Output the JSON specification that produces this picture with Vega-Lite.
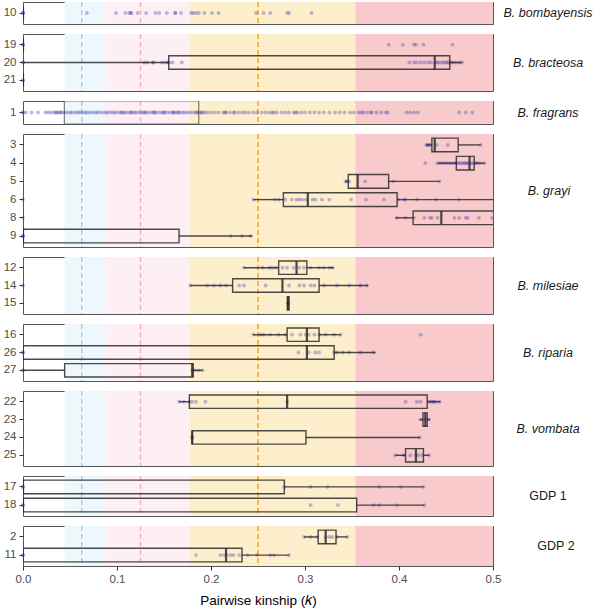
{
"$schema": "https://vega.github.io/schema/vega-lite/v6.json",
"padding": {"left": 2, "top": 0, "right": 0, "bottom": 0},
"spacing": 6,
"resolve": {"scale": {"x": "independent", "y": "independent"}},
"config": {
 "font": "Liberation Sans",
 "view": {"stroke": "#555555", "strokeWidth": 1},
 "axisY": {"labelFontSize": 11.5, "labelColor": "#4d4d4d", "tickColor": "#333333", "tickSize": 4, "labelPadding": 3, "domain": false, "grid": false},
 "axisX": {"grid": false, "domain": false, "labelFlush": false, "labelFontSize": 11.5, "labelColor": "#4d4d4d", "tickColor": "#333333", "tickSize": 4, "labelPadding": 3, "titleFontSize": 13.5, "titleFontWeight": "normal", "titleColor": "#000000", "titlePadding": 9}
},
"datasets": {
 "bands": [
  {"lo": 0.0442, "hi": 0.0884, "cat": "3rd"},
  {"lo": 0.0884, "hi": 0.1768, "cat": "2nd"},
  {"lo": 0.1768, "hi": 0.3536, "cat": "1st"},
  {"lo": 0.3536, "hi": 0.5, "cat": "dup"}
 ],
 "refs": [
  {"k": 0.0625, "cat": "3rd"},
  {"k": 0.125, "cat": "2nd"},
  {"k": 0.25, "cat": "1st"}
 ],
 "boxes": [
  {"species": "B. bombayensis", "pop": "10", "lower": 0, "q1": 0, "median": 0, "q3": 0, "upper": 0},
  {"species": "B. bracteosa", "pop": "19", "lower": 0, "q1": 0, "median": 0, "q3": 0, "upper": 0},
  {"species": "B. bracteosa", "pop": "20", "lower": 0, "q1": 0.155, "median": 0.438, "q3": 0.454, "upper": 0.467},
  {"species": "B. bracteosa", "pop": "21", "lower": 0, "q1": 0, "median": 0, "q3": 0, "upper": 0},
  {"species": "B. fragrans", "pop": "1", "lower": 0, "q1": 0.044, "median": 0.044, "q3": 0.187, "upper": 0.39},
  {"species": "B. grayi", "pop": "3", "lower": 0.429, "q1": 0.435, "median": 0.438, "q3": 0.463, "upper": 0.487},
  {"species": "B. grayi", "pop": "4", "lower": 0.441, "q1": 0.461, "median": 0.475, "q3": 0.48, "upper": 0.491},
  {"species": "B. grayi", "pop": "5", "lower": 0.343, "q1": 0.346, "median": 0.356, "q3": 0.389, "upper": 0.443},
  {"species": "B. grayi", "pop": "6", "lower": 0.245, "q1": 0.277, "median": 0.303, "q3": 0.398, "upper": 0.53},
  {"species": "B. grayi", "pop": "8", "lower": 0.396, "q1": 0.415, "median": 0.445, "q3": 0.52, "upper": 0.55},
  {"species": "B. grayi", "pop": "9", "lower": 0, "q1": 0, "median": 0, "q3": 0.166, "upper": 0.244},
  {"species": "B. milesiae", "pop": "12", "lower": 0.235, "q1": 0.272, "median": 0.291, "q3": 0.302, "upper": 0.331},
  {"species": "B. milesiae", "pop": "14", "lower": 0.178, "q1": 0.223, "median": 0.276, "q3": 0.315, "upper": 0.367},
  {"species": "B. milesiae", "pop": "15", "lower": 0.281, "q1": 0.2812, "median": 0.282, "q3": 0.283, "upper": 0.283},
  {"species": "B. riparia", "pop": "16", "lower": 0.245, "q1": 0.281, "median": 0.302, "q3": 0.315, "upper": 0.338},
  {"species": "B. riparia", "pop": "26", "lower": 0, "q1": 0, "median": 0.302, "q3": 0.331, "upper": 0.375},
  {"species": "B. riparia", "pop": "27", "lower": 0, "q1": 0.0443, "median": 0.18, "q3": 0.181, "upper": 0.191},
  {"species": "B. vombata", "pop": "22", "lower": 0.166, "q1": 0.177, "median": 0.281, "q3": 0.43, "upper": 0.444},
  {"species": "B. vombata", "pop": "23", "lower": 0.422, "q1": 0.4255, "median": 0.428, "q3": 0.43, "upper": 0.433},
  {"species": "B. vombata", "pop": "24", "lower": 0.18, "q1": 0.18, "median": 0.18, "q3": 0.301, "upper": 0.422},
  {"species": "B. vombata", "pop": "25", "lower": 0.396, "q1": 0.407, "median": 0.418, "q3": 0.426, "upper": 0.432},
  {"species": "GDP 1", "pop": "17", "lower": 0, "q1": 0, "median": 0, "q3": 0.278, "upper": 0.426},
  {"species": "GDP 1", "pop": "18", "lower": 0, "q1": 0, "median": 0, "q3": 0.355, "upper": 0.427},
  {"species": "GDP 2", "pop": "2", "lower": 0.299, "q1": 0.314, "median": 0.322, "q3": 0.333, "upper": 0.345},
  {"species": "GDP 2", "pop": "11", "lower": 0, "q1": 0, "median": 0.216, "q3": 0.233, "upper": 0.283}
 ],
 "points": [
  {"species":"B. bombayensis","pop":"10","k":0},{"species":"B. bombayensis","pop":"10","k":0},{"species":"B. bombayensis","pop":"10","k":0},
  {"species":"B. bombayensis","pop":"10","k":0.068},{"species":"B. bombayensis","pop":"10","k":0.099},{"species":"B. bombayensis","pop":"10","k":0.109},
  {"species":"B. bombayensis","pop":"10","k":0.113},{"species":"B. bombayensis","pop":"10","k":0.115},{"species":"B. bombayensis","pop":"10","k":0.115},
  {"species":"B. bombayensis","pop":"10","k":0.122},{"species":"B. bombayensis","pop":"10","k":0.131},{"species":"B. bombayensis","pop":"10","k":0.141},
  {"species":"B. bombayensis","pop":"10","k":0.145},{"species":"B. bombayensis","pop":"10","k":0.153},{"species":"B. bombayensis","pop":"10","k":0.162},
  {"species":"B. bombayensis","pop":"10","k":0.162},{"species":"B. bombayensis","pop":"10","k":0.168},{"species":"B. bombayensis","pop":"10","k":0.179},
  {"species":"B. bombayensis","pop":"10","k":0.181},{"species":"B. bombayensis","pop":"10","k":0.184},{"species":"B. bombayensis","pop":"10","k":0.187},
  {"species":"B. bombayensis","pop":"10","k":0.193},{"species":"B. bombayensis","pop":"10","k":0.201},{"species":"B. bombayensis","pop":"10","k":0.208},
  {"species":"B. bombayensis","pop":"10","k":0.248},{"species":"B. bombayensis","pop":"10","k":0.256},{"species":"B. bombayensis","pop":"10","k":0.263},
  {"species":"B. bombayensis","pop":"10","k":0.281},{"species":"B. bombayensis","pop":"10","k":0.283},{"species":"B. bombayensis","pop":"10","k":0.307},
  {"species":"B. bracteosa","pop":"19","k":0},{"species":"B. bracteosa","pop":"19","k":0},{"species":"B. bracteosa","pop":"19","k":0.389},
  {"species":"B. bracteosa","pop":"19","k":0.404},{"species":"B. bracteosa","pop":"19","k":0.416},{"species":"B. bracteosa","pop":"19","k":0.418},
  {"species":"B. bracteosa","pop":"19","k":0.426},{"species":"B. bracteosa","pop":"19","k":0.457},
  {"species":"B. bracteosa","pop":"20","k":0},{"species":"B. bracteosa","pop":"20","k":0},{"species":"B. bracteosa","pop":"20","k":0.129},
  {"species":"B. bracteosa","pop":"20","k":0.132},{"species":"B. bracteosa","pop":"20","k":0.138},{"species":"B. bracteosa","pop":"20","k":0.139},
  {"species":"B. bracteosa","pop":"20","k":0.148},{"species":"B. bracteosa","pop":"20","k":0.152},{"species":"B. bracteosa","pop":"20","k":0.155},
  {"species":"B. bracteosa","pop":"20","k":0.155},{"species":"B. bracteosa","pop":"20","k":0.159},{"species":"B. bracteosa","pop":"20","k":0.169},
  {"species":"B. bracteosa","pop":"20","k":0.411},{"species":"B. bracteosa","pop":"20","k":0.416},{"species":"B. bracteosa","pop":"20","k":0.419},
  {"species":"B. bracteosa","pop":"20","k":0.423},{"species":"B. bracteosa","pop":"20","k":0.427},{"species":"B. bracteosa","pop":"20","k":0.431},
  {"species":"B. bracteosa","pop":"20","k":0.434},{"species":"B. bracteosa","pop":"20","k":0.439},{"species":"B. bracteosa","pop":"20","k":0.441},
  {"species":"B. bracteosa","pop":"20","k":0.443},{"species":"B. bracteosa","pop":"20","k":0.446},{"species":"B. bracteosa","pop":"20","k":0.448},
  {"species":"B. bracteosa","pop":"20","k":0.45},{"species":"B. bracteosa","pop":"20","k":0.452},{"species":"B. bracteosa","pop":"20","k":0.453},
  {"species":"B. bracteosa","pop":"20","k":0.455},{"species":"B. bracteosa","pop":"20","k":0.457},{"species":"B. bracteosa","pop":"20","k":0.46},
  {"species":"B. bracteosa","pop":"20","k":0.464},{"species":"B. bracteosa","pop":"20","k":0.467},
  {"species":"B. bracteosa","pop":"21","k":0},{"species":"B. bracteosa","pop":"21","k":0},
  {"species":"B. fragrans","pop":"1","k":0},{"species":"B. fragrans","pop":"1","k":0},{"species":"B. fragrans","pop":"1","k":0.003},{"species":"B. fragrans","pop":"1","k":0.009},
  {"species":"B. fragrans","pop":"1","k":0.016},{"species":"B. fragrans","pop":"1","k":0.024},{"species":"B. fragrans","pop":"1","k":0.027},{"species":"B. fragrans","pop":"1","k":0.03},
  {"species":"B. fragrans","pop":"1","k":0.033},{"species":"B. fragrans","pop":"1","k":0.035},{"species":"B. fragrans","pop":"1","k":0.036},{"species":"B. fragrans","pop":"1","k":0.038},
  {"species":"B. fragrans","pop":"1","k":0.04},{"species":"B. fragrans","pop":"1","k":0.041},{"species":"B. fragrans","pop":"1","k":0.044},{"species":"B. fragrans","pop":"1","k":0.047},
  {"species":"B. fragrans","pop":"1","k":0.05},{"species":"B. fragrans","pop":"1","k":0.052},{"species":"B. fragrans","pop":"1","k":0.055},{"species":"B. fragrans","pop":"1","k":0.058},
  {"species":"B. fragrans","pop":"1","k":0.06},{"species":"B. fragrans","pop":"1","k":0.063},{"species":"B. fragrans","pop":"1","k":0.066},{"species":"B. fragrans","pop":"1","k":0.068},
  {"species":"B. fragrans","pop":"1","k":0.071},{"species":"B. fragrans","pop":"1","k":0.074},{"species":"B. fragrans","pop":"1","k":0.077},{"species":"B. fragrans","pop":"1","k":0.079},
  {"species":"B. fragrans","pop":"1","k":0.082},{"species":"B. fragrans","pop":"1","k":0.085},{"species":"B. fragrans","pop":"1","k":0.088},{"species":"B. fragrans","pop":"1","k":0.09},
  {"species":"B. fragrans","pop":"1","k":0.093},{"species":"B. fragrans","pop":"1","k":0.096},{"species":"B. fragrans","pop":"1","k":0.098},{"species":"B. fragrans","pop":"1","k":0.101},
  {"species":"B. fragrans","pop":"1","k":0.104},{"species":"B. fragrans","pop":"1","k":0.105},{"species":"B. fragrans","pop":"1","k":0.107},{"species":"B. fragrans","pop":"1","k":0.109},
  {"species":"B. fragrans","pop":"1","k":0.112},{"species":"B. fragrans","pop":"1","k":0.115},{"species":"B. fragrans","pop":"1","k":0.115},{"species":"B. fragrans","pop":"1","k":0.118},
  {"species":"B. fragrans","pop":"1","k":0.12},{"species":"B. fragrans","pop":"1","k":0.123},{"species":"B. fragrans","pop":"1","k":0.126},{"species":"B. fragrans","pop":"1","k":0.128},
  {"species":"B. fragrans","pop":"1","k":0.13},{"species":"B. fragrans","pop":"1","k":0.131},{"species":"B. fragrans","pop":"1","k":0.134},{"species":"B. fragrans","pop":"1","k":0.137},
  {"species":"B. fragrans","pop":"1","k":0.139},{"species":"B. fragrans","pop":"1","k":0.14},{"species":"B. fragrans","pop":"1","k":0.142},{"species":"B. fragrans","pop":"1","k":0.145},
  {"species":"B. fragrans","pop":"1","k":0.148},{"species":"B. fragrans","pop":"1","k":0.15},{"species":"B. fragrans","pop":"1","k":0.15},{"species":"B. fragrans","pop":"1","k":0.153},
  {"species":"B. fragrans","pop":"1","k":0.156},{"species":"B. fragrans","pop":"1","k":0.159},{"species":"B. fragrans","pop":"1","k":0.16},{"species":"B. fragrans","pop":"1","k":0.161},
  {"species":"B. fragrans","pop":"1","k":0.164},{"species":"B. fragrans","pop":"1","k":0.165},{"species":"B. fragrans","pop":"1","k":0.167},{"species":"B. fragrans","pop":"1","k":0.17},
  {"species":"B. fragrans","pop":"1","k":0.172},{"species":"B. fragrans","pop":"1","k":0.175},{"species":"B. fragrans","pop":"1","k":0.178},{"species":"B. fragrans","pop":"1","k":0.181},
  {"species":"B. fragrans","pop":"1","k":0.184},{"species":"B. fragrans","pop":"1","k":0.185},{"species":"B. fragrans","pop":"1","k":0.187},{"species":"B. fragrans","pop":"1","k":0.19},
  {"species":"B. fragrans","pop":"1","k":0.19},{"species":"B. fragrans","pop":"1","k":0.193},{"species":"B. fragrans","pop":"1","k":0.196},{"species":"B. fragrans","pop":"1","k":0.2},
  {"species":"B. fragrans","pop":"1","k":0.204},{"species":"B. fragrans","pop":"1","k":0.208},{"species":"B. fragrans","pop":"1","k":0.213},{"species":"B. fragrans","pop":"1","k":0.215},
  {"species":"B. fragrans","pop":"1","k":0.216},{"species":"B. fragrans","pop":"1","k":0.22},{"species":"B. fragrans","pop":"1","k":0.224},{"species":"B. fragrans","pop":"1","k":0.225},
  {"species":"B. fragrans","pop":"1","k":0.229},{"species":"B. fragrans","pop":"1","k":0.233},{"species":"B. fragrans","pop":"1","k":0.236},{"species":"B. fragrans","pop":"1","k":0.24},
  {"species":"B. fragrans","pop":"1","k":0.245},{"species":"B. fragrans","pop":"1","k":0.249},{"species":"B. fragrans","pop":"1","k":0.254},{"species":"B. fragrans","pop":"1","k":0.258},
  {"species":"B. fragrans","pop":"1","k":0.262},{"species":"B. fragrans","pop":"1","k":0.265},{"species":"B. fragrans","pop":"1","k":0.267},{"species":"B. fragrans","pop":"1","k":0.27},
  {"species":"B. fragrans","pop":"1","k":0.275},{"species":"B. fragrans","pop":"1","k":0.279},{"species":"B. fragrans","pop":"1","k":0.283},{"species":"B. fragrans","pop":"1","k":0.288},
  {"species":"B. fragrans","pop":"1","k":0.29},{"species":"B. fragrans","pop":"1","k":0.292},{"species":"B. fragrans","pop":"1","k":0.296},{"species":"B. fragrans","pop":"1","k":0.3},
  {"species":"B. fragrans","pop":"1","k":0.305},{"species":"B. fragrans","pop":"1","k":0.31},{"species":"B. fragrans","pop":"1","k":0.315},{"species":"B. fragrans","pop":"1","k":0.32},
  {"species":"B. fragrans","pop":"1","k":0.326},{"species":"B. fragrans","pop":"1","k":0.332},{"species":"B. fragrans","pop":"1","k":0.337},{"species":"B. fragrans","pop":"1","k":0.342},
  {"species":"B. fragrans","pop":"1","k":0.348},{"species":"B. fragrans","pop":"1","k":0.352},{"species":"B. fragrans","pop":"1","k":0.357},{"species":"B. fragrans","pop":"1","k":0.36},
  {"species":"B. fragrans","pop":"1","k":0.362},{"species":"B. fragrans","pop":"1","k":0.366},{"species":"B. fragrans","pop":"1","k":0.37},{"species":"B. fragrans","pop":"1","k":0.371},
  {"species":"B. fragrans","pop":"1","k":0.376},{"species":"B. fragrans","pop":"1","k":0.381},{"species":"B. fragrans","pop":"1","k":0.386},{"species":"B. fragrans","pop":"1","k":0.388},
  {"species":"B. fragrans","pop":"1","k":0.408},{"species":"B. fragrans","pop":"1","k":0.412},{"species":"B. fragrans","pop":"1","k":0.416},{"species":"B. fragrans","pop":"1","k":0.42},
  {"species":"B. fragrans","pop":"1","k":0.464},{"species":"B. fragrans","pop":"1","k":0.471},{"species":"B. fragrans","pop":"1","k":0.478},
  {"species":"B. grayi","pop":"3","k":0.429},{"species":"B. grayi","pop":"3","k":0.43},{"species":"B. grayi","pop":"3","k":0.432},{"species":"B. grayi","pop":"3","k":0.433},
  {"species":"B. grayi","pop":"3","k":0.44},{"species":"B. grayi","pop":"3","k":0.452},{"species":"B. grayi","pop":"3","k":0.487},
  {"species":"B. grayi","pop":"4","k":0.428},{"species":"B. grayi","pop":"4","k":0.441},{"species":"B. grayi","pop":"4","k":0.444},{"species":"B. grayi","pop":"4","k":0.447},
  {"species":"B. grayi","pop":"4","k":0.45},{"species":"B. grayi","pop":"4","k":0.453},{"species":"B. grayi","pop":"4","k":0.456},{"species":"B. grayi","pop":"4","k":0.459},
  {"species":"B. grayi","pop":"4","k":0.461},{"species":"B. grayi","pop":"4","k":0.463},{"species":"B. grayi","pop":"4","k":0.465},{"species":"B. grayi","pop":"4","k":0.467},
  {"species":"B. grayi","pop":"4","k":0.469},{"species":"B. grayi","pop":"4","k":0.47},{"species":"B. grayi","pop":"4","k":0.472},{"species":"B. grayi","pop":"4","k":0.473},
  {"species":"B. grayi","pop":"4","k":0.475},{"species":"B. grayi","pop":"4","k":0.477},{"species":"B. grayi","pop":"4","k":0.479},{"species":"B. grayi","pop":"4","k":0.481},
  {"species":"B. grayi","pop":"4","k":0.483},{"species":"B. grayi","pop":"4","k":0.486},{"species":"B. grayi","pop":"4","k":0.491},
  {"species":"B. grayi","pop":"5","k":0.343},{"species":"B. grayi","pop":"5","k":0.345},{"species":"B. grayi","pop":"5","k":0.347},{"species":"B. grayi","pop":"5","k":0.364},
  {"species":"B. grayi","pop":"5","k":0.394},{"species":"B. grayi","pop":"5","k":0.443},
  {"species":"B. grayi","pop":"6","k":0},{"species":"B. grayi","pop":"6","k":0.245},{"species":"B. grayi","pop":"6","k":0.268},{"species":"B. grayi","pop":"6","k":0.272},
  {"species":"B. grayi","pop":"6","k":0.279},{"species":"B. grayi","pop":"6","k":0.286},{"species":"B. grayi","pop":"6","k":0.291},{"species":"B. grayi","pop":"6","k":0.294},
  {"species":"B. grayi","pop":"6","k":0.297},{"species":"B. grayi","pop":"6","k":0.301},{"species":"B. grayi","pop":"6","k":0.308},{"species":"B. grayi","pop":"6","k":0.311},
  {"species":"B. grayi","pop":"6","k":0.318},{"species":"B. grayi","pop":"6","k":0.326},{"species":"B. grayi","pop":"6","k":0.349},{"species":"B. grayi","pop":"6","k":0.365},
  {"species":"B. grayi","pop":"6","k":0.384},{"species":"B. grayi","pop":"6","k":0.4},{"species":"B. grayi","pop":"6","k":0.405},{"species":"B. grayi","pop":"6","k":0.407},
  {"species":"B. grayi","pop":"6","k":0.419},{"species":"B. grayi","pop":"6","k":0.439},{"species":"B. grayi","pop":"6","k":0.464},
  {"species":"B. grayi","pop":"8","k":0},{"species":"B. grayi","pop":"8","k":0.398},{"species":"B. grayi","pop":"8","k":0.407},{"species":"B. grayi","pop":"8","k":0.416},
  {"species":"B. grayi","pop":"8","k":0.427},{"species":"B. grayi","pop":"8","k":0.433},{"species":"B. grayi","pop":"8","k":0.435},{"species":"B. grayi","pop":"8","k":0.441},
  {"species":"B. grayi","pop":"8","k":0.459},{"species":"B. grayi","pop":"8","k":0.464},{"species":"B. grayi","pop":"8","k":0.471},{"species":"B. grayi","pop":"8","k":0.473},
  {"species":"B. grayi","pop":"8","k":0.485},{"species":"B. grayi","pop":"8","k":0.499},
  {"species":"B. grayi","pop":"9","k":0},{"species":"B. grayi","pop":"9","k":0},{"species":"B. grayi","pop":"9","k":0},{"species":"B. grayi","pop":"9","k":0.221},
  {"species":"B. grayi","pop":"9","k":0.233},{"species":"B. grayi","pop":"9","k":0.242},
  {"species":"B. milesiae","pop":"12","k":0.235},{"species":"B. milesiae","pop":"12","k":0.255},{"species":"B. milesiae","pop":"12","k":0.262},{"species":"B. milesiae","pop":"12","k":0.265},
  {"species":"B. milesiae","pop":"12","k":0.269},{"species":"B. milesiae","pop":"12","k":0.276},{"species":"B. milesiae","pop":"12","k":0.281},{"species":"B. milesiae","pop":"12","k":0.288},
  {"species":"B. milesiae","pop":"12","k":0.294},{"species":"B. milesiae","pop":"12","k":0.299},{"species":"B. milesiae","pop":"12","k":0.306},{"species":"B. milesiae","pop":"12","k":0.315},
  {"species":"B. milesiae","pop":"12","k":0.32},{"species":"B. milesiae","pop":"12","k":0.326},{"species":"B. milesiae","pop":"12","k":0.329},
  {"species":"B. milesiae","pop":"14","k":0},{"species":"B. milesiae","pop":"14","k":0.178},{"species":"B. milesiae","pop":"14","k":0.196},{"species":"B. milesiae","pop":"14","k":0.203},
  {"species":"B. milesiae","pop":"14","k":0.21},{"species":"B. milesiae","pop":"14","k":0.216},{"species":"B. milesiae","pop":"14","k":0.23},{"species":"B. milesiae","pop":"14","k":0.235},
  {"species":"B. milesiae","pop":"14","k":0.258},{"species":"B. milesiae","pop":"14","k":0.283},{"species":"B. milesiae","pop":"14","k":0.294},{"species":"B. milesiae","pop":"14","k":0.299},
  {"species":"B. milesiae","pop":"14","k":0.306},{"species":"B. milesiae","pop":"14","k":0.31},{"species":"B. milesiae","pop":"14","k":0.32},{"species":"B. milesiae","pop":"14","k":0.334},
  {"species":"B. milesiae","pop":"14","k":0.347},{"species":"B. milesiae","pop":"14","k":0.359},{"species":"B. milesiae","pop":"14","k":0.366},
  {"species":"B. milesiae","pop":"15","k":0.282},{"species":"B. milesiae","pop":"15","k":0.282},
  {"species":"B. riparia","pop":"16","k":0.245},{"species":"B. riparia","pop":"16","k":0.253},{"species":"B. riparia","pop":"16","k":0.256},{"species":"B. riparia","pop":"16","k":0.263},
  {"species":"B. riparia","pop":"16","k":0.272},{"species":"B. riparia","pop":"16","k":0.279},{"species":"B. riparia","pop":"16","k":0.286},{"species":"B. riparia","pop":"16","k":0.295},
  {"species":"B. riparia","pop":"16","k":0.301},{"species":"B. riparia","pop":"16","k":0.304},{"species":"B. riparia","pop":"16","k":0.31},{"species":"B. riparia","pop":"16","k":0.315},
  {"species":"B. riparia","pop":"16","k":0.322},{"species":"B. riparia","pop":"16","k":0.331},{"species":"B. riparia","pop":"16","k":0.338},{"species":"B. riparia","pop":"16","k":0.423},
  {"species":"B. riparia","pop":"26","k":0},{"species":"B. riparia","pop":"26","k":0},{"species":"B. riparia","pop":"26","k":0.293},{"species":"B. riparia","pop":"26","k":0.304},
  {"species":"B. riparia","pop":"26","k":0.311},{"species":"B. riparia","pop":"26","k":0.315},{"species":"B. riparia","pop":"26","k":0.331},{"species":"B. riparia","pop":"26","k":0.334},
  {"species":"B. riparia","pop":"26","k":0.34},{"species":"B. riparia","pop":"26","k":0.347},{"species":"B. riparia","pop":"26","k":0.359},{"species":"B. riparia","pop":"26","k":0.373},
  {"species":"B. riparia","pop":"27","k":0},{"species":"B. riparia","pop":"27","k":0},{"species":"B. riparia","pop":"27","k":0.18},{"species":"B. riparia","pop":"27","k":0.183},
  {"species":"B. riparia","pop":"27","k":0.187},{"species":"B. riparia","pop":"27","k":0.191},
  {"species":"B. vombata","pop":"22","k":0.166},{"species":"B. vombata","pop":"22","k":0.171},{"species":"B. vombata","pop":"22","k":0.177},{"species":"B. vombata","pop":"22","k":0.18},
  {"species":"B. vombata","pop":"22","k":0.184},{"species":"B. vombata","pop":"22","k":0.194},{"species":"B. vombata","pop":"22","k":0.281},{"species":"B. vombata","pop":"22","k":0.407},
  {"species":"B. vombata","pop":"22","k":0.419},{"species":"B. vombata","pop":"22","k":0.423},{"species":"B. vombata","pop":"22","k":0.432},{"species":"B. vombata","pop":"22","k":0.434},
  {"species":"B. vombata","pop":"22","k":0.436},{"species":"B. vombata","pop":"22","k":0.437},{"species":"B. vombata","pop":"22","k":0.439},{"species":"B. vombata","pop":"22","k":0.443},
  {"species":"B. vombata","pop":"23","k":0.423},{"species":"B. vombata","pop":"23","k":0.427},{"species":"B. vombata","pop":"23","k":0.429},{"species":"B. vombata","pop":"23","k":0.432},
  {"species":"B. vombata","pop":"24","k":0.18},{"species":"B. vombata","pop":"24","k":0.18},{"species":"B. vombata","pop":"24","k":0.422},
  {"species":"B. vombata","pop":"25","k":0.396},{"species":"B. vombata","pop":"25","k":0.405},{"species":"B. vombata","pop":"25","k":0.412},{"species":"B. vombata","pop":"25","k":0.418},
  {"species":"B. vombata","pop":"25","k":0.421},{"species":"B. vombata","pop":"25","k":0.425},{"species":"B. vombata","pop":"25","k":0.432},
  {"species":"GDP 1","pop":"17","k":0},{"species":"GDP 1","pop":"17","k":0},{"species":"GDP 1","pop":"17","k":0.278},{"species":"GDP 1","pop":"17","k":0.306},
  {"species":"GDP 1","pop":"17","k":0.324},{"species":"GDP 1","pop":"17","k":0.379},{"species":"GDP 1","pop":"17","k":0.402},{"species":"GDP 1","pop":"17","k":0.426},
  {"species":"GDP 1","pop":"18","k":0},{"species":"GDP 1","pop":"18","k":0},{"species":"GDP 1","pop":"18","k":0.306},{"species":"GDP 1","pop":"18","k":0.335},
  {"species":"GDP 1","pop":"18","k":0.373},{"species":"GDP 1","pop":"18","k":0.379},{"species":"GDP 1","pop":"18","k":0.398},{"species":"GDP 1","pop":"18","k":0.427},
  {"species":"GDP 2","pop":"2","k":0.299},{"species":"GDP 2","pop":"2","k":0.306},{"species":"GDP 2","pop":"2","k":0.313},{"species":"GDP 2","pop":"2","k":0.322},
  {"species":"GDP 2","pop":"2","k":0.326},{"species":"GDP 2","pop":"2","k":0.329},{"species":"GDP 2","pop":"2","k":0.334},{"species":"GDP 2","pop":"2","k":0.345},
  {"species":"GDP 2","pop":"11","k":0},{"species":"GDP 2","pop":"11","k":0},{"species":"GDP 2","pop":"11","k":0.184},{"species":"GDP 2","pop":"11","k":0.21},
  {"species":"GDP 2","pop":"11","k":0.214},{"species":"GDP 2","pop":"11","k":0.217},{"species":"GDP 2","pop":"11","k":0.221},{"species":"GDP 2","pop":"11","k":0.224},
  {"species":"GDP 2","pop":"11","k":0.23},{"species":"GDP 2","pop":"11","k":0.239},{"species":"GDP 2","pop":"11","k":0.249},{"species":"GDP 2","pop":"11","k":0.263},
  {"species":"GDP 2","pop":"11","k":0.267},{"species":"GDP 2","pop":"11","k":0.283}
 ]
},
"vconcat": [
 {"spacing": 8, "hconcat": [
  {"width": 470, "height": 22, "layer": [
   {"data": {"name": "bands"}, "mark": {"type": "rect", "clip": true}, "encoding": {"x": {"field": "lo", "type": "quantitative", "scale": {"domain": [0, 0.5]}, "axis": null}, "x2": {"field": "hi"}, "fill": {"field": "cat", "type": "nominal", "scale": {"domain": ["3rd", "2nd", "1st", "dup"], "range": ["#eef7fc", "#fdeff4", "#fdefcb", "#f8cacc"]}, "legend": null}}},
   {"data": {"name": "refs"}, "mark": {"type": "rule", "strokeDash": [5, 3], "strokeWidth": 1.5}, "encoding": {"x": {"field": "k", "type": "quantitative", "axis": null}, "stroke": {"field": "cat", "type": "nominal", "scale": {"domain": ["3rd", "2nd", "1st"], "range": ["#9dd3e8", "#f5b3c8", "#f5a11e"]}, "legend": null}}},
   {"data": {"name": "points"}, "transform": [{"filter": "datum.species === 'B. bombayensis'"}], "mark": {"type": "circle", "size": 15, "color": "#4a3db3", "opacity": 0.35}, "encoding": {"x": {"field": "k", "type": "quantitative", "axis": null}, "y": {"field": "pop", "type": "nominal", "scale": {"type": "band", "domain": ["10"], "paddingInner": 0, "paddingOuter": 0.1}, "axis": {"title": null}}}},
   {"data": {"name": "boxes"}, "transform": [{"filter": "datum.species === 'B. bombayensis'"}], "mark": {"type": "tick", "orient": "vertical", "size": 13.5, "thickness": 2.2, "color": "#2b2b2b", "opacity": 0.85, "clip": true}, "encoding": {"x": {"field": "median", "type": "quantitative", "axis": null}, "y": {"field": "pop", "type": "nominal", "title": null}}}
  ]},
  {"width": 92, "height": 22, "view": {"stroke": null}, "data": {"values": [{"label": "B. bombayensis"}]}, "mark": {"type": "text", "fontSize": 12.5, "fontStyle": "italic", "color": "#1a1a1a"}, "encoding": {"text": {"field": "label", "type": "nominal"}}}
 ]},
 {"spacing": 8, "hconcat": [
  {"width": 470, "height": 57, "layer": [
   {"data": {"name": "bands"}, "mark": {"type": "rect", "clip": true}, "encoding": {"x": {"field": "lo", "type": "quantitative", "scale": {"domain": [0, 0.5]}, "axis": null}, "x2": {"field": "hi"}, "fill": {"field": "cat", "type": "nominal", "scale": {"domain": ["3rd", "2nd", "1st", "dup"], "range": ["#eef7fc", "#fdeff4", "#fdefcb", "#f8cacc"]}, "legend": null}}},
   {"data": {"name": "refs"}, "mark": {"type": "rule", "strokeDash": [5, 3], "strokeWidth": 1.5}, "encoding": {"x": {"field": "k", "type": "quantitative", "axis": null}, "stroke": {"field": "cat", "type": "nominal", "scale": {"domain": ["3rd", "2nd", "1st"], "range": ["#9dd3e8", "#f5b3c8", "#f5a11e"]}, "legend": null}}},
   {"data": {"name": "points"}, "transform": [{"filter": "datum.species === 'B. bracteosa'"}], "mark": {"type": "circle", "size": 15, "color": "#4a3db3", "opacity": 0.35}, "encoding": {"x": {"field": "k", "type": "quantitative", "axis": null}, "y": {"field": "pop", "type": "nominal", "scale": {"type": "band", "domain": ["19", "20", "21"], "paddingInner": 0, "paddingOuter": 0.1}, "axis": {"title": null}}}},
   {"data": {"name": "boxes"}, "transform": [{"filter": "datum.species === 'B. bracteosa'"}], "mark": {"type": "rule", "color": "#2b2b2b", "opacity": 0.85, "strokeWidth": 1.4, "clip": true}, "encoding": {"x": {"field": "lower", "type": "quantitative", "axis": null}, "x2": {"field": "q1"}, "y": {"field": "pop", "type": "nominal", "title": null}}},
   {"data": {"name": "boxes"}, "transform": [{"filter": "datum.species === 'B. bracteosa'"}], "mark": {"type": "rule", "color": "#2b2b2b", "opacity": 0.85, "strokeWidth": 1.4, "clip": true}, "encoding": {"x": {"field": "q3", "type": "quantitative", "axis": null}, "x2": {"field": "upper"}, "y": {"field": "pop", "type": "nominal", "title": null}}},
   {"data": {"name": "boxes"}, "transform": [{"filter": "datum.species === 'B. bracteosa'"}], "mark": {"type": "bar", "height": {"band": 0.75}, "fillOpacity": 0, "stroke": "#2b2b2b", "strokeOpacity": 0.85, "strokeWidth": 1.4, "clip": true}, "encoding": {"x": {"field": "q1", "type": "quantitative", "axis": null}, "x2": {"field": "q3"}, "y": {"field": "pop", "type": "nominal", "title": null}}},
   {"data": {"name": "boxes"}, "transform": [{"filter": "datum.species === 'B. bracteosa'"}], "mark": {"type": "tick", "orient": "vertical", "size": 13.5, "thickness": 2.2, "color": "#2b2b2b", "opacity": 0.85, "clip": true}, "encoding": {"x": {"field": "median", "type": "quantitative", "axis": null}, "y": {"field": "pop", "type": "nominal", "title": null}}}
  ]},
  {"width": 92, "height": 57, "view": {"stroke": null}, "data": {"values": [{"label": "B. bracteosa"}]}, "mark": {"type": "text", "fontSize": 12.5, "fontStyle": "italic", "color": "#1a1a1a"}, "encoding": {"text": {"field": "label", "type": "nominal"}}}
 ]},
 {"spacing": 8, "hconcat": [
  {"width": 470, "height": 23, "layer": [
   {"data": {"name": "bands"}, "mark": {"type": "rect", "clip": true}, "encoding": {"x": {"field": "lo", "type": "quantitative", "scale": {"domain": [0, 0.5]}, "axis": null}, "x2": {"field": "hi"}, "fill": {"field": "cat", "type": "nominal", "scale": {"domain": ["3rd", "2nd", "1st", "dup"], "range": ["#eef7fc", "#fdeff4", "#fdefcb", "#f8cacc"]}, "legend": null}}},
   {"data": {"name": "refs"}, "mark": {"type": "rule", "strokeDash": [5, 3], "strokeWidth": 1.5}, "encoding": {"x": {"field": "k", "type": "quantitative", "axis": null}, "stroke": {"field": "cat", "type": "nominal", "scale": {"domain": ["3rd", "2nd", "1st"], "range": ["#9dd3e8", "#f5b3c8", "#f5a11e"]}, "legend": null}}},
   {"data": {"name": "points"}, "transform": [{"filter": "datum.species === 'B. fragrans'"}], "mark": {"type": "circle", "size": 15, "color": "#4a3db3", "opacity": 0.35}, "encoding": {"x": {"field": "k", "type": "quantitative", "axis": null}, "y": {"field": "pop", "type": "nominal", "scale": {"type": "band", "domain": ["1"], "paddingInner": 0, "paddingOuter": 0.1}, "axis": {"title": null}}}},
   {"data": {"name": "boxes"}, "transform": [{"filter": "datum.species === 'B. fragrans'"}], "mark": {"type": "bar", "height": {"band": 1.2}, "fillOpacity": 0, "stroke": "#2b2b2b", "strokeOpacity": 0.6, "strokeWidth": 1.2, "clip": true}, "encoding": {"x": {"field": "q1", "type": "quantitative", "axis": null}, "x2": {"field": "q3"}, "y": {"field": "pop", "type": "nominal", "title": null}}}
  ]},
  {"width": 92, "height": 23, "view": {"stroke": null}, "data": {"values": [{"label": "B. fragrans"}]}, "mark": {"type": "text", "fontSize": 12.5, "fontStyle": "italic", "color": "#1a1a1a"}, "encoding": {"text": {"field": "label", "type": "nominal"}}}
 ]},
 {"spacing": 8, "hconcat": [
  {"width": 470, "height": 113, "layer": [
   {"data": {"name": "bands"}, "mark": {"type": "rect", "clip": true}, "encoding": {"x": {"field": "lo", "type": "quantitative", "scale": {"domain": [0, 0.5]}, "axis": null}, "x2": {"field": "hi"}, "fill": {"field": "cat", "type": "nominal", "scale": {"domain": ["3rd", "2nd", "1st", "dup"], "range": ["#eef7fc", "#fdeff4", "#fdefcb", "#f8cacc"]}, "legend": null}}},
   {"data": {"name": "refs"}, "mark": {"type": "rule", "strokeDash": [5, 3], "strokeWidth": 1.5}, "encoding": {"x": {"field": "k", "type": "quantitative", "axis": null}, "stroke": {"field": "cat", "type": "nominal", "scale": {"domain": ["3rd", "2nd", "1st"], "range": ["#9dd3e8", "#f5b3c8", "#f5a11e"]}, "legend": null}}},
   {"data": {"name": "points"}, "transform": [{"filter": "datum.species === 'B. grayi'"}], "mark": {"type": "circle", "size": 15, "color": "#4a3db3", "opacity": 0.35}, "encoding": {"x": {"field": "k", "type": "quantitative", "axis": null}, "y": {"field": "pop", "type": "nominal", "scale": {"type": "band", "domain": ["3", "4", "5", "6", "8", "9"], "paddingInner": 0, "paddingOuter": 0.1}, "axis": {"title": null}}}},
   {"data": {"name": "boxes"}, "transform": [{"filter": "datum.species === 'B. grayi'"}], "mark": {"type": "rule", "color": "#2b2b2b", "opacity": 0.85, "strokeWidth": 1.4, "clip": true}, "encoding": {"x": {"field": "lower", "type": "quantitative", "axis": null}, "x2": {"field": "q1"}, "y": {"field": "pop", "type": "nominal", "title": null}}},
   {"data": {"name": "boxes"}, "transform": [{"filter": "datum.species === 'B. grayi'"}], "mark": {"type": "rule", "color": "#2b2b2b", "opacity": 0.85, "strokeWidth": 1.4, "clip": true}, "encoding": {"x": {"field": "q3", "type": "quantitative", "axis": null}, "x2": {"field": "upper"}, "y": {"field": "pop", "type": "nominal", "title": null}}},
   {"data": {"name": "boxes"}, "transform": [{"filter": "datum.species === 'B. grayi'"}], "mark": {"type": "bar", "height": {"band": 0.75}, "fillOpacity": 0, "stroke": "#2b2b2b", "strokeOpacity": 0.85, "strokeWidth": 1.4, "clip": true}, "encoding": {"x": {"field": "q1", "type": "quantitative", "axis": null}, "x2": {"field": "q3"}, "y": {"field": "pop", "type": "nominal", "title": null}}},
   {"data": {"name": "boxes"}, "transform": [{"filter": "datum.species === 'B. grayi'"}], "mark": {"type": "tick", "orient": "vertical", "size": 13.5, "thickness": 2.2, "color": "#2b2b2b", "opacity": 0.85, "clip": true}, "encoding": {"x": {"field": "median", "type": "quantitative", "axis": null}, "y": {"field": "pop", "type": "nominal", "title": null}}}
  ]},
  {"width": 92, "height": 113, "view": {"stroke": null}, "data": {"values": [{"label": "B. grayi"}]}, "mark": {"type": "text", "fontSize": 12.5, "fontStyle": "italic", "color": "#1a1a1a"}, "encoding": {"text": {"field": "label", "type": "nominal"}}}
 ]},
 {"spacing": 8, "hconcat": [
  {"width": 470, "height": 57, "layer": [
   {"data": {"name": "bands"}, "mark": {"type": "rect", "clip": true}, "encoding": {"x": {"field": "lo", "type": "quantitative", "scale": {"domain": [0, 0.5]}, "axis": null}, "x2": {"field": "hi"}, "fill": {"field": "cat", "type": "nominal", "scale": {"domain": ["3rd", "2nd", "1st", "dup"], "range": ["#eef7fc", "#fdeff4", "#fdefcb", "#f8cacc"]}, "legend": null}}},
   {"data": {"name": "refs"}, "mark": {"type": "rule", "strokeDash": [5, 3], "strokeWidth": 1.5}, "encoding": {"x": {"field": "k", "type": "quantitative", "axis": null}, "stroke": {"field": "cat", "type": "nominal", "scale": {"domain": ["3rd", "2nd", "1st"], "range": ["#9dd3e8", "#f5b3c8", "#f5a11e"]}, "legend": null}}},
   {"data": {"name": "points"}, "transform": [{"filter": "datum.species === 'B. milesiae'"}], "mark": {"type": "circle", "size": 15, "color": "#4a3db3", "opacity": 0.35}, "encoding": {"x": {"field": "k", "type": "quantitative", "axis": null}, "y": {"field": "pop", "type": "nominal", "scale": {"type": "band", "domain": ["12", "14", "15"], "paddingInner": 0, "paddingOuter": 0.1}, "axis": {"title": null}}}},
   {"data": {"name": "boxes"}, "transform": [{"filter": "datum.species === 'B. milesiae'"}], "mark": {"type": "rule", "color": "#2b2b2b", "opacity": 0.85, "strokeWidth": 1.4, "clip": true}, "encoding": {"x": {"field": "lower", "type": "quantitative", "axis": null}, "x2": {"field": "q1"}, "y": {"field": "pop", "type": "nominal", "title": null}}},
   {"data": {"name": "boxes"}, "transform": [{"filter": "datum.species === 'B. milesiae'"}], "mark": {"type": "rule", "color": "#2b2b2b", "opacity": 0.85, "strokeWidth": 1.4, "clip": true}, "encoding": {"x": {"field": "q3", "type": "quantitative", "axis": null}, "x2": {"field": "upper"}, "y": {"field": "pop", "type": "nominal", "title": null}}},
   {"data": {"name": "boxes"}, "transform": [{"filter": "datum.species === 'B. milesiae'"}], "mark": {"type": "bar", "height": {"band": 0.75}, "fillOpacity": 0, "stroke": "#2b2b2b", "strokeOpacity": 0.85, "strokeWidth": 1.4, "clip": true}, "encoding": {"x": {"field": "q1", "type": "quantitative", "axis": null}, "x2": {"field": "q3"}, "y": {"field": "pop", "type": "nominal", "title": null}}},
   {"data": {"name": "boxes"}, "transform": [{"filter": "datum.species === 'B. milesiae'"}], "mark": {"type": "tick", "orient": "vertical", "size": 13.5, "thickness": 2.2, "color": "#2b2b2b", "opacity": 0.85, "clip": true}, "encoding": {"x": {"field": "median", "type": "quantitative", "axis": null}, "y": {"field": "pop", "type": "nominal", "title": null}}}
  ]},
  {"width": 92, "height": 57, "view": {"stroke": null}, "data": {"values": [{"label": "B. milesiae"}]}, "mark": {"type": "text", "fontSize": 12.5, "fontStyle": "italic", "color": "#1a1a1a"}, "encoding": {"text": {"field": "label", "type": "nominal"}}}
 ]},
 {"spacing": 8, "hconcat": [
  {"width": 470, "height": 57, "layer": [
   {"data": {"name": "bands"}, "mark": {"type": "rect", "clip": true}, "encoding": {"x": {"field": "lo", "type": "quantitative", "scale": {"domain": [0, 0.5]}, "axis": null}, "x2": {"field": "hi"}, "fill": {"field": "cat", "type": "nominal", "scale": {"domain": ["3rd", "2nd", "1st", "dup"], "range": ["#eef7fc", "#fdeff4", "#fdefcb", "#f8cacc"]}, "legend": null}}},
   {"data": {"name": "refs"}, "mark": {"type": "rule", "strokeDash": [5, 3], "strokeWidth": 1.5}, "encoding": {"x": {"field": "k", "type": "quantitative", "axis": null}, "stroke": {"field": "cat", "type": "nominal", "scale": {"domain": ["3rd", "2nd", "1st"], "range": ["#9dd3e8", "#f5b3c8", "#f5a11e"]}, "legend": null}}},
   {"data": {"name": "points"}, "transform": [{"filter": "datum.species === 'B. riparia'"}], "mark": {"type": "circle", "size": 15, "color": "#4a3db3", "opacity": 0.35}, "encoding": {"x": {"field": "k", "type": "quantitative", "axis": null}, "y": {"field": "pop", "type": "nominal", "scale": {"type": "band", "domain": ["16", "26", "27"], "paddingInner": 0, "paddingOuter": 0.1}, "axis": {"title": null}}}},
   {"data": {"name": "boxes"}, "transform": [{"filter": "datum.species === 'B. riparia'"}], "mark": {"type": "rule", "color": "#2b2b2b", "opacity": 0.85, "strokeWidth": 1.4, "clip": true}, "encoding": {"x": {"field": "lower", "type": "quantitative", "axis": null}, "x2": {"field": "q1"}, "y": {"field": "pop", "type": "nominal", "title": null}}},
   {"data": {"name": "boxes"}, "transform": [{"filter": "datum.species === 'B. riparia'"}], "mark": {"type": "rule", "color": "#2b2b2b", "opacity": 0.85, "strokeWidth": 1.4, "clip": true}, "encoding": {"x": {"field": "q3", "type": "quantitative", "axis": null}, "x2": {"field": "upper"}, "y": {"field": "pop", "type": "nominal", "title": null}}},
   {"data": {"name": "boxes"}, "transform": [{"filter": "datum.species === 'B. riparia'"}], "mark": {"type": "bar", "height": {"band": 0.75}, "fillOpacity": 0, "stroke": "#2b2b2b", "strokeOpacity": 0.85, "strokeWidth": 1.4, "clip": true}, "encoding": {"x": {"field": "q1", "type": "quantitative", "axis": null}, "x2": {"field": "q3"}, "y": {"field": "pop", "type": "nominal", "title": null}}},
   {"data": {"name": "boxes"}, "transform": [{"filter": "datum.species === 'B. riparia'"}], "mark": {"type": "tick", "orient": "vertical", "size": 13.5, "thickness": 2.2, "color": "#2b2b2b", "opacity": 0.85, "clip": true}, "encoding": {"x": {"field": "median", "type": "quantitative", "axis": null}, "y": {"field": "pop", "type": "nominal", "title": null}}}
  ]},
  {"width": 92, "height": 57, "view": {"stroke": null}, "data": {"values": [{"label": "B. riparia"}]}, "mark": {"type": "text", "fontSize": 12.5, "fontStyle": "italic", "color": "#1a1a1a"}, "encoding": {"text": {"field": "label", "type": "nominal"}}}
 ]},
 {"spacing": 8, "hconcat": [
  {"width": 470, "height": 75, "layer": [
   {"data": {"name": "bands"}, "mark": {"type": "rect", "clip": true}, "encoding": {"x": {"field": "lo", "type": "quantitative", "scale": {"domain": [0, 0.5]}, "axis": null}, "x2": {"field": "hi"}, "fill": {"field": "cat", "type": "nominal", "scale": {"domain": ["3rd", "2nd", "1st", "dup"], "range": ["#eef7fc", "#fdeff4", "#fdefcb", "#f8cacc"]}, "legend": null}}},
   {"data": {"name": "refs"}, "mark": {"type": "rule", "strokeDash": [5, 3], "strokeWidth": 1.5}, "encoding": {"x": {"field": "k", "type": "quantitative", "axis": null}, "stroke": {"field": "cat", "type": "nominal", "scale": {"domain": ["3rd", "2nd", "1st"], "range": ["#9dd3e8", "#f5b3c8", "#f5a11e"]}, "legend": null}}},
   {"data": {"name": "points"}, "transform": [{"filter": "datum.species === 'B. vombata'"}], "mark": {"type": "circle", "size": 15, "color": "#4a3db3", "opacity": 0.35}, "encoding": {"x": {"field": "k", "type": "quantitative", "axis": null}, "y": {"field": "pop", "type": "nominal", "scale": {"type": "band", "domain": ["22", "23", "24", "25"], "paddingInner": 0, "paddingOuter": 0.1}, "axis": {"title": null}}}},
   {"data": {"name": "boxes"}, "transform": [{"filter": "datum.species === 'B. vombata'"}], "mark": {"type": "rule", "color": "#2b2b2b", "opacity": 0.85, "strokeWidth": 1.4, "clip": true}, "encoding": {"x": {"field": "lower", "type": "quantitative", "axis": null}, "x2": {"field": "q1"}, "y": {"field": "pop", "type": "nominal", "title": null}}},
   {"data": {"name": "boxes"}, "transform": [{"filter": "datum.species === 'B. vombata'"}], "mark": {"type": "rule", "color": "#2b2b2b", "opacity": 0.85, "strokeWidth": 1.4, "clip": true}, "encoding": {"x": {"field": "q3", "type": "quantitative", "axis": null}, "x2": {"field": "upper"}, "y": {"field": "pop", "type": "nominal", "title": null}}},
   {"data": {"name": "boxes"}, "transform": [{"filter": "datum.species === 'B. vombata'"}], "mark": {"type": "bar", "height": {"band": 0.75}, "fillOpacity": 0, "stroke": "#2b2b2b", "strokeOpacity": 0.85, "strokeWidth": 1.4, "clip": true}, "encoding": {"x": {"field": "q1", "type": "quantitative", "axis": null}, "x2": {"field": "q3"}, "y": {"field": "pop", "type": "nominal", "title": null}}},
   {"data": {"name": "boxes"}, "transform": [{"filter": "datum.species === 'B. vombata'"}], "mark": {"type": "tick", "orient": "vertical", "size": 13.5, "thickness": 2.2, "color": "#2b2b2b", "opacity": 0.85, "clip": true}, "encoding": {"x": {"field": "median", "type": "quantitative", "axis": null}, "y": {"field": "pop", "type": "nominal", "title": null}}}
  ]},
  {"width": 92, "height": 75, "view": {"stroke": null}, "data": {"values": [{"label": "B. vombata"}]}, "mark": {"type": "text", "fontSize": 12.5, "fontStyle": "italic", "color": "#1a1a1a"}, "encoding": {"text": {"field": "label", "type": "nominal"}}}
 ]},
 {"spacing": 8, "hconcat": [
  {"width": 470, "height": 40, "layer": [
   {"data": {"name": "bands"}, "mark": {"type": "rect", "clip": true}, "encoding": {"x": {"field": "lo", "type": "quantitative", "scale": {"domain": [0, 0.5]}, "axis": null}, "x2": {"field": "hi"}, "fill": {"field": "cat", "type": "nominal", "scale": {"domain": ["3rd", "2nd", "1st", "dup"], "range": ["#eef7fc", "#fdeff4", "#fdefcb", "#f8cacc"]}, "legend": null}}},
   {"data": {"name": "refs"}, "mark": {"type": "rule", "strokeDash": [5, 3], "strokeWidth": 1.5}, "encoding": {"x": {"field": "k", "type": "quantitative", "axis": null}, "stroke": {"field": "cat", "type": "nominal", "scale": {"domain": ["3rd", "2nd", "1st"], "range": ["#9dd3e8", "#f5b3c8", "#f5a11e"]}, "legend": null}}},
   {"data": {"name": "points"}, "transform": [{"filter": "datum.species === 'GDP 1'"}], "mark": {"type": "circle", "size": 15, "color": "#4a3db3", "opacity": 0.35}, "encoding": {"x": {"field": "k", "type": "quantitative", "axis": null}, "y": {"field": "pop", "type": "nominal", "scale": {"type": "band", "domain": ["17", "18"], "paddingInner": 0, "paddingOuter": 0.1}, "axis": {"title": null}}}},
   {"data": {"name": "boxes"}, "transform": [{"filter": "datum.species === 'GDP 1'"}], "mark": {"type": "rule", "color": "#2b2b2b", "opacity": 0.85, "strokeWidth": 1.4, "clip": true}, "encoding": {"x": {"field": "lower", "type": "quantitative", "axis": null}, "x2": {"field": "q1"}, "y": {"field": "pop", "type": "nominal", "title": null}}},
   {"data": {"name": "boxes"}, "transform": [{"filter": "datum.species === 'GDP 1'"}], "mark": {"type": "rule", "color": "#2b2b2b", "opacity": 0.85, "strokeWidth": 1.4, "clip": true}, "encoding": {"x": {"field": "q3", "type": "quantitative", "axis": null}, "x2": {"field": "upper"}, "y": {"field": "pop", "type": "nominal", "title": null}}},
   {"data": {"name": "boxes"}, "transform": [{"filter": "datum.species === 'GDP 1'"}], "mark": {"type": "bar", "height": {"band": 0.75}, "fillOpacity": 0, "stroke": "#2b2b2b", "strokeOpacity": 0.85, "strokeWidth": 1.4, "clip": true}, "encoding": {"x": {"field": "q1", "type": "quantitative", "axis": null}, "x2": {"field": "q3"}, "y": {"field": "pop", "type": "nominal", "title": null}}},
   {"data": {"name": "boxes"}, "transform": [{"filter": "datum.species === 'GDP 1'"}], "mark": {"type": "tick", "orient": "vertical", "size": 13.5, "thickness": 2.2, "color": "#2b2b2b", "opacity": 0.85, "clip": true}, "encoding": {"x": {"field": "median", "type": "quantitative", "axis": null}, "y": {"field": "pop", "type": "nominal", "title": null}}}
  ]},
  {"width": 92, "height": 40, "view": {"stroke": null}, "data": {"values": [{"label": "GDP 1"}]}, "mark": {"type": "text", "fontSize": 12.5, "color": "#1a1a1a"}, "encoding": {"text": {"field": "label", "type": "nominal"}}}
 ]},
 {"spacing": 8, "hconcat": [
  {"width": 470, "height": 40, "layer": [
   {"data": {"name": "bands"}, "mark": {"type": "rect", "clip": true}, "encoding": {"x": {"field": "lo", "type": "quantitative", "scale": {"domain": [0, 0.5]}, "title": "Pairwise kinship (𝑘)", "axis": {"values": [0, 0.1, 0.2, 0.3, 0.4, 0.5], "format": ".1f"}}, "x2": {"field": "hi"}, "fill": {"field": "cat", "type": "nominal", "scale": {"domain": ["3rd", "2nd", "1st", "dup"], "range": ["#eef7fc", "#fdeff4", "#fdefcb", "#f8cacc"]}, "legend": null}}},
   {"data": {"name": "refs"}, "mark": {"type": "rule", "strokeDash": [5, 3], "strokeWidth": 1.5}, "encoding": {"x": {"field": "k", "type": "quantitative", "title": "Pairwise kinship (𝑘)"}, "stroke": {"field": "cat", "type": "nominal", "scale": {"domain": ["3rd", "2nd", "1st"], "range": ["#9dd3e8", "#f5b3c8", "#f5a11e"]}, "legend": null}}},
   {"data": {"name": "points"}, "transform": [{"filter": "datum.species === 'GDP 2'"}], "mark": {"type": "circle", "size": 15, "color": "#4a3db3", "opacity": 0.35}, "encoding": {"x": {"field": "k", "type": "quantitative", "title": "Pairwise kinship (𝑘)"}, "y": {"field": "pop", "type": "nominal", "scale": {"type": "band", "domain": ["2", "11"], "paddingInner": 0, "paddingOuter": 0.1}, "axis": {"title": null}}}},
   {"data": {"name": "boxes"}, "transform": [{"filter": "datum.species === 'GDP 2'"}], "mark": {"type": "rule", "color": "#2b2b2b", "opacity": 0.85, "strokeWidth": 1.4, "clip": true}, "encoding": {"x": {"field": "lower", "type": "quantitative", "title": "Pairwise kinship (𝑘)"}, "x2": {"field": "q1"}, "y": {"field": "pop", "type": "nominal", "title": null}}},
   {"data": {"name": "boxes"}, "transform": [{"filter": "datum.species === 'GDP 2'"}], "mark": {"type": "rule", "color": "#2b2b2b", "opacity": 0.85, "strokeWidth": 1.4, "clip": true}, "encoding": {"x": {"field": "q3", "type": "quantitative", "title": "Pairwise kinship (𝑘)"}, "x2": {"field": "upper"}, "y": {"field": "pop", "type": "nominal", "title": null}}},
   {"data": {"name": "boxes"}, "transform": [{"filter": "datum.species === 'GDP 2'"}], "mark": {"type": "bar", "height": {"band": 0.75}, "fillOpacity": 0, "stroke": "#2b2b2b", "strokeOpacity": 0.85, "strokeWidth": 1.4, "clip": true}, "encoding": {"x": {"field": "q1", "type": "quantitative", "title": "Pairwise kinship (𝑘)"}, "x2": {"field": "q3"}, "y": {"field": "pop", "type": "nominal", "title": null}}},
   {"data": {"name": "boxes"}, "transform": [{"filter": "datum.species === 'GDP 2'"}], "mark": {"type": "tick", "orient": "vertical", "size": 13.5, "thickness": 2.2, "color": "#2b2b2b", "opacity": 0.85, "clip": true}, "encoding": {"x": {"field": "median", "type": "quantitative", "title": "Pairwise kinship (𝑘)"}, "y": {"field": "pop", "type": "nominal", "title": null}}}
  ]},
  {"width": 92, "height": 40, "view": {"stroke": null}, "data": {"values": [{"label": "GDP 2"}]}, "mark": {"type": "text", "fontSize": 12.5, "color": "#1a1a1a"}, "encoding": {"text": {"field": "label", "type": "nominal"}}}
 ]}
]
}
